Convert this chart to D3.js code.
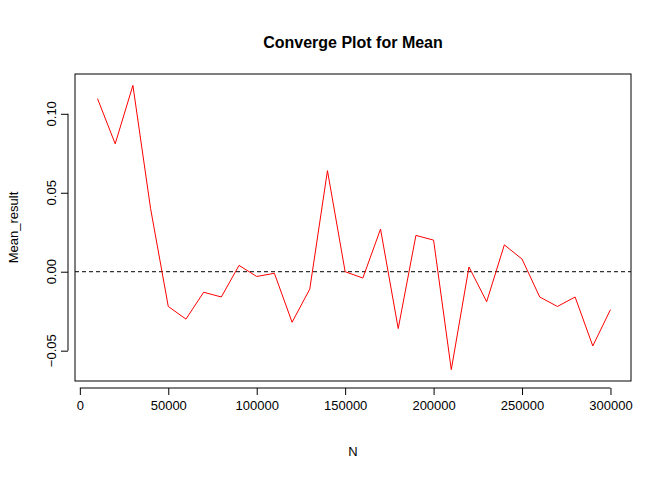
<!DOCTYPE html>
<html><head><meta charset="utf-8">
<script src="https://cdn.jsdelivr.net/npm/d3@7"></script>
<style>body{margin:0;background:#fff}text{font-family:"Liberation Sans",Arial,sans-serif}</style>
</head><body><div class="canvas"></div>
<script>
const nValues = d3.range(10000, 300001, 10000);
const meanResult = [0.1096, 0.081, 0.118, 0.040, -0.022, -0.030, -0.013, -0.016, 0.004, -0.003,
  -0.001, -0.032, -0.011, 0.064, 0.000, -0.004, 0.027, -0.036, 0.023, 0.020,
  -0.062, 0.003, -0.019, 0.017, 0.008, -0.016, -0.022, -0.016, -0.047, -0.024];
const xTicks = [0, 50000, 100000, 150000, 200000, 250000, 300000];
const yTicks = [-0.05, 0.00, 0.05, 0.10];

const dims = { width: 672, height: 480 };
const box = { left: 75, right: 631, top: 74, bottom: 381 };

const svg = d3.select(".canvas").append("svg")
  .attr("width", dims.width).attr("height", dims.height);

const data = nValues.map((n, i) => ({ n, v: meanResult[i] }));

const xPad = (d3.max(nValues) - d3.min(nValues)) * 0.04;
const x = d3.scaleLinear()
  .domain([d3.min(nValues) - xPad, d3.max(nValues) + xPad])
  .range([box.left + 2, box.right]);
const yPad = (d3.max(meanResult) - d3.min(meanResult)) * 0.04;
const y = d3.scaleLinear()
  .domain([d3.min(meanResult) - yPad, d3.max(meanResult) + yPad])
  .range([box.bottom, box.top]);

// plot frame
svg.append("rect")
  .attr("x", box.left).attr("y", box.top)
  .attr("width", box.right - box.left).attr("height", box.bottom - box.top)
  .attr("fill", "none").attr("stroke", "#000");

// x axis
const xAxis = svg.append("g")
  .attr("transform", `translate(0,${box.bottom + 7})`)
  .call(d3.axisBottom(x).tickValues(xTicks).tickFormat(d3.format("d")).tickSizeOuter(0).tickSize(7));
xAxis.selectAll("text").attr("font-size", 13).attr("dy", "0.9em").attr("fill", "#000");

// y axis: ticks from axis, labels rotated by hand
const yAxis = svg.append("g")
  .attr("transform", `translate(${box.left - 7},0)`)
  .call(d3.axisLeft(y).tickValues(yTicks).tickSizeOuter(0).tickSize(7));
yAxis.selectAll("text").remove();
svg.append("g").selectAll("text").data(yTicks).enter().append("text")
  .attr("transform", (d) => `translate(56,${y(d)}) rotate(-90)`)
  .attr("text-anchor", "middle").attr("font-size", 13)
  .text(d3.format(".2f"));

svg.selectAll(".domain").remove();
svg.append("line").attr("x1", x(0)).attr("x2", x(300000))
  .attr("y1", box.bottom + 7).attr("y2", box.bottom + 7).attr("stroke", "#000");
svg.append("line").attr("y1", y(-0.05)).attr("y2", y(0.10))
  .attr("x1", box.left - 7).attr("x2", box.left - 7).attr("stroke", "#000");

// reference line at zero
svg.append("line")
  .attr("x1", box.left).attr("x2", box.right)
  .attr("y1", y(0)).attr("y2", y(0))
  .attr("stroke", "#000").attr("stroke-dasharray", "4,3");

// series line
svg.append("path").datum(data)
  .attr("fill", "none").attr("stroke", "red").attr("stroke-width", 1)
  .attr("d", d3.line().x((d) => x(d.n)).y((d) => y(d.v)));

// labels
svg.append("text").attr("x", (box.left + box.right) / 2).attr("y", 48)
  .attr("text-anchor", "middle").attr("font-weight", "bold").attr("font-size", 16)
  .text("Converge Plot for Mean");
svg.append("text").attr("x", (box.left + box.right) / 2).attr("y", 456)
  .attr("text-anchor", "middle").attr("font-size", 13).text("N");
svg.append("text")
  .attr("transform", `translate(18,${(box.top + box.bottom) / 2}) rotate(-90)`)
  .attr("text-anchor", "middle").attr("font-size", 13).text("Mean_result");
</script></body></html>
